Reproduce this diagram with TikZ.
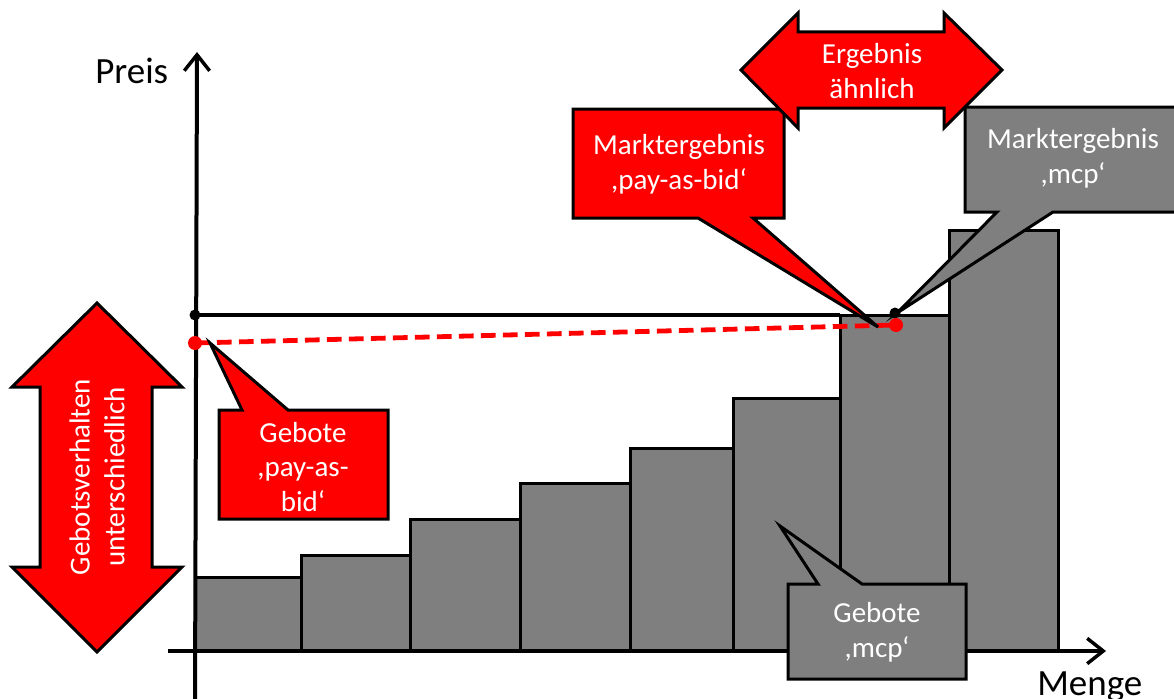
\documentclass[tikz,border=0pt]{standalone}
\usepackage{fontspec}
\setmainfont{Carlito}
\usetikzlibrary{arrows.meta}
\definecolor{cred}{HTML}{FF0000}
\definecolor{cgray}{HTML}{7F7F7F}
\tikzset{
  bar/.style={fill=cgray,draw=black,line width=2.25pt},
  redshape/.style={fill=cred,draw=black,line width=2.25pt,line join=miter},
  grayshape/.style={fill=cgray,draw=black,line width=2.25pt,line join=miter},
  axis/.style={draw=black,line width=3pt,-{Straight Barb[length=12pt,width=19pt,line width=2.6pt]}},
  lbl/.style={text=white,align=center,inner sep=0pt,font=\fontsize{21.75}{26}\selectfont},
  axlbl/.style={text=black,inner sep=0pt,font=\fontsize{27.75}{32}\selectfont},
}
\begin{document}
\begin{tikzpicture}[x=0.75pt,y=-0.75pt]
\useasboundingbox (0,0) rectangle (1174,699);
% bars
\draw[bar] (195,651) rectangle (301,577);
\draw[bar] (301,651) rectangle (410,555);
\draw[bar] (410,651) rectangle (520,519);
\draw[bar] (520,651) rectangle (630,483);
\draw[bar] (630,651) rectangle (733,448);
\draw[bar] (733,651) rectangle (840,398);
\draw[bar] (840,651) rectangle (949,315);
\draw[bar] (949,651) rectangle (1058,230);
% axes
\coordinate (yb) at (195,702);
\coordinate (yt) at (197,52);
\coordinate (xl) at (168,651);
\coordinate (xr) at (1106,651);
\draw[axis] (yb) -- (yt);
\draw[axis] (xl) -- (xr);
\node[axlbl,anchor=base west] (preis) at (95,84) {Preis};
\node[axlbl,anchor=base west] (menge) at (1037,695) {Menge};
% price lines
\coordinate (pb) at (195,315);
\coordinate (pm) at (895,313);
\coordinate (rb) at (195,343);
\coordinate (rm) at (896,325);
\draw[black,line width=2.6pt] (pb) -- (840,315);
\draw[cred,line width=3.6pt,dash pattern=on 11pt off 5.5pt] (rb) -- (rm);
% callouts
\draw[redshape] (573,109) -- (784,109) -- (784,218) -- (753,218) -- (878,327) -- (698,218) -- (573,218) -- cycle;
\node[lbl] (mpab) at (679,164) {Marktergebnis\\,pay-as-bid‘};
\draw[grayshape] (965,107) -- (1185,107) -- (1185,212) -- (1053,212) -- (897,313) -- (997,212) -- (965,212) -- cycle;
\node[lbl] (mmcp) at (1073,158) {Marktergebnis\\,mcp‘};
\draw[redshape] (219,410) -- (242,410) -- (210,343) -- (288,410) -- (388,410) -- (388,519) -- (219,519) -- cycle;
\node[lbl] (gpab) at (303,467) {Gebote\\,pay-as-\\bid‘};
\draw[grayshape] (788,584) -- (818,584) -- (780,526) -- (862,584) -- (966,584) -- (966,679) -- (788,679) -- cycle;
\node[lbl] (gmcp) at (877,632) {Gebote\\,mcp‘};
% double arrows
\draw[redshape] (741,70) -- (798,13) -- (798,32) -- (944,32) -- (944,13) -- (1002,70) -- (944,128) -- (944,108) -- (798,108) -- (798,128) -- cycle;
\node[lbl] (erg) at (872,71) {Ergebnis\\ähnlich};
\draw[redshape] (97,303) -- (182,387) -- (152,387) -- (152,567) -- (182,567) -- (97,652) -- (12,567) -- (40,567) -- (40,387) -- (12,387) -- cycle;
\node[lbl,rotate=90] (gebv) at (97,477) {Gebotsverhalten\\unterschiedlich};
% dots
\fill[black] (pb) circle (5.5);
\fill[black] (pm) circle (5.5);
\fill[cred] (rb) circle (7);
\fill[cred] (rm) circle (7);
\end{tikzpicture}
\end{document}
